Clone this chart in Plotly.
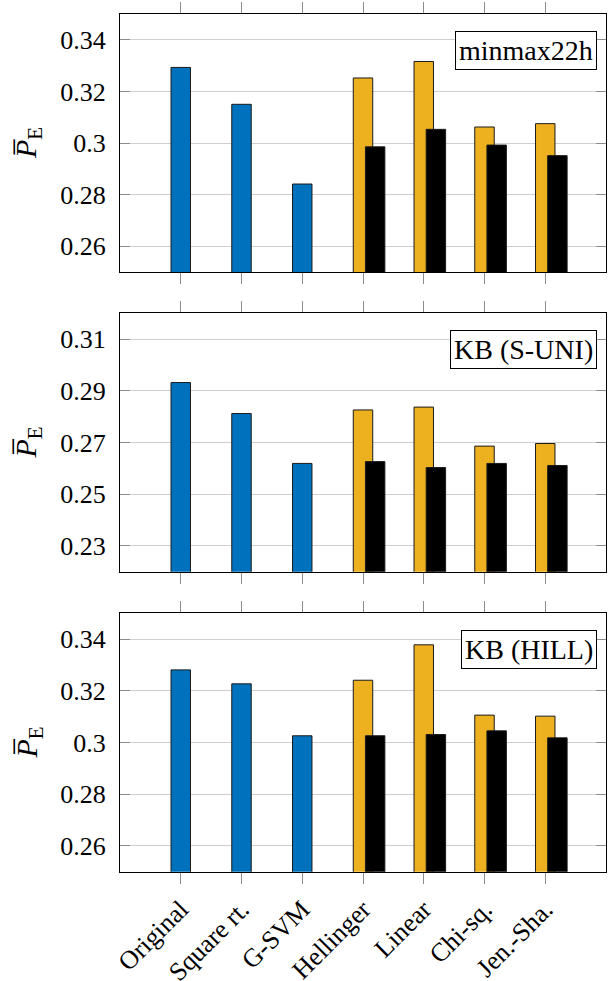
import plotly.graph_objects as go

categories = ["Original", "Square rt.", "G-SVM", "Hellinger", "Linear", "Chi-sq.", "Jen.-Sha."]
base_cats = ["Original", "Square rt.", "G-SVM"]
kernel_cats = ["Hellinger", "Linear", "Chi-sq.", "Jen.-Sha."]

panel_names = ["minmax22h", "KB (S-UNI)", "KB (HILL)"]

# panel 1: minmax22h
blue_1 = [0.3293, 0.3150, 0.2841]
yellow_1 = [0.3252, 0.3316, 0.3062, 0.3075]
black_1 = [0.2985, 0.3053, 0.2992, 0.2951]
# panel 2: KB (S-UNI)
blue_2 = [0.2932, 0.2812, 0.2619]
yellow_2 = [0.2826, 0.2837, 0.2686, 0.2696]
black_2 = [0.2626, 0.2603, 0.2619, 0.2611]
# panel 3: KB (HILL)
blue_3 = [0.3281, 0.3227, 0.3026]
yellow_3 = [0.3241, 0.3378, 0.3106, 0.3102]
black_3 = [0.3026, 0.3031, 0.3045, 0.3018]

yticks_1 = [0.26, 0.28, 0.30, 0.32, 0.34]
yticks_2 = [0.23, 0.25, 0.27, 0.29, 0.31]
yticks_3 = [0.26, 0.28, 0.30, 0.32, 0.34]
yranges = [[0.25, 0.35], [0.22, 0.32], [0.25, 0.35]]

BLUE = "#0072BD"
YELLOW = "#EDB120"
FONT = "Liberation Serif"
FS = 26
FS_BOX = 28

W, H = 608, 981
x_dom = [120 / W, 606 / W]
panels_px = [(14, 272), (313.3, 571.7), (613.3, 871.7)]

fig = go.Figure()

data = [(blue_1, yellow_1, black_1), (blue_2, yellow_2, black_2), (blue_3, yellow_3, black_3)]
yticks = [yticks_1, yticks_2, yticks_3]
BW = 0.32

for i, (bl, ye, bk) in enumerate(data):
    xa = "x" if i == 0 else f"x{i+1}"
    ya = "y" if i == 0 else f"y{i+1}"
    line = dict(color="#1a1a1a", width=1)
    fig.add_trace(go.Bar(x=base_cats, y=bl, xaxis=xa, yaxis=ya, width=BW, offset=-BW / 2,
                         marker=dict(color=BLUE, line=line), showlegend=False))
    fig.add_trace(go.Bar(x=kernel_cats, y=ye, xaxis=xa, yaxis=ya, width=BW, offset=-BW / 2,
                         marker=dict(color=YELLOW, line=line), showlegend=False))
    fig.add_trace(go.Bar(x=kernel_cats, y=bk, xaxis=xa, yaxis=ya, width=BW, offset=-BW / 2 + 0.2,
                         marker=dict(color="black", line=line), showlegend=False))

layout = dict(
    width=W, height=H, margin=dict(l=0, r=0, t=0, b=0),
    paper_bgcolor="white", plot_bgcolor="white", barmode="overlay",
    font=dict(family=FONT, size=FS, color="black"),
    showlegend=False,
)

annotations = []
for i in range(3):
    top, bot = panels_px[i]
    ydom = [1 - bot / H, 1 - top / H]
    xk = "xaxis" if i == 0 else f"xaxis{i+1}"
    yk = "yaxis" if i == 0 else f"yaxis{i+1}"
    ya = "y" if i == 0 else f"y{i+1}"
    layout[xk] = dict(
        domain=x_dom, anchor=ya, type="category",
        categoryorder="array", categoryarray=categories,
        range=[-1, 7], showline=True, linecolor="black", linewidth=1, mirror="ticks",
        ticks="outside", ticklen=11, tickcolor="#8c8c8c", tickwidth=1,
        showgrid=False, showticklabels=(i == 2), tickangle=-45,
        tickfont=dict(family=FONT, size=FS), automargin=False,
    )
    layout[yk] = dict(
        domain=ydom, anchor="x" if i == 0 else f"x{i+1}",
        range=yranges[i], tickvals=yticks[i], ticktext=[f"{v:g}" for v in yticks[i]],
        showline=True, linecolor="black", linewidth=1, mirror="ticks",
        ticks="inside", ticklen=10, tickcolor="#8c8c8c", tickwidth=1,
        showgrid=True, gridcolor="#cfcfcf", gridwidth=1, zeroline=False,
        tickfont=dict(family=FONT, size=FS), ticklabelstandoff=8, automargin=False,
    )
    xd = ("x" if i == 0 else f"x{i+1}") + " domain"
    yd = ya + " domain"
    annotations.append(dict(
        text=panel_names[i], xref=xd, yref=yd, x=0.982, y=1 - 17 / 258,
        xanchor="right", yanchor="top", showarrow=False,
        bordercolor="black", borderwidth=1, borderpad=3, bgcolor="white",
        font=dict(family=FONT, size=FS_BOX, color="black"),
    ))
    annotations.append(dict(
        text="<i>P\u0305</i><sub>E</sub>", xref="paper", yref="paper",
        x=28 / W, y=1 - (top + bot) / 2 / H, xanchor="center", yanchor="middle",
        textangle=-90, showarrow=False, font=dict(family=FONT, size=30, color="black"),
    ))

layout["annotations"] = annotations
fig.update_layout(**layout)
fig.write_html("out.html")
